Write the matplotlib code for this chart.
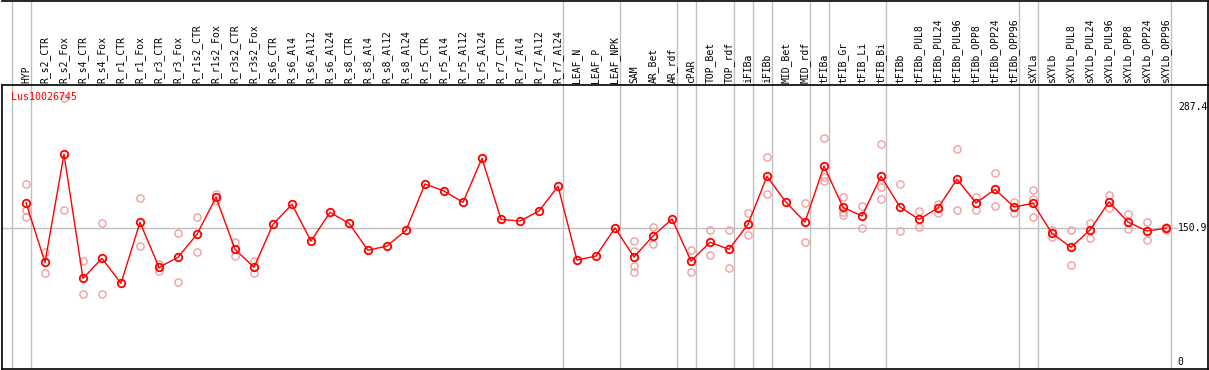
import matplotlib
matplotlib.use("Agg")
import matplotlib.pyplot as plt
import numpy as np

labels = ["HYP", "R_s2_CTR", "R_s2_Fox", "R_s4_CTR", "R_s4_Fox", "R_r1_CTR", "R_r1_Fox",
          "R_r3_CTR", "R_r3_Fox", "R_r1s2_CTR", "R_r1s2_Fox", "R_r3s2_CTR", "R_r3s2_Fox",
          "R_s6_CTR", "R_s6_Al4", "R_s6_Al12", "R_s6_Al24", "R_s8_CTR", "R_s8_Al4",
          "R_s8_Al12", "R_s8_Al24", "R_r5_CTR", "R_r5_Al4", "R_r5_Al12", "R_r5_Al24",
          "R_r7_CTR", "R_r7_Al4", "R_r7_Al12", "R_r7_Al24", "LEAF_N", "LEAF_P", "LEAF_NPK",
          "SAM", "AR_Bet", "AR_rdf", "cPAR", "TOP_Bet", "TOP_rdf", "iFIBa", "iFIBb",
          "MID_Bet", "MID_rdf", "tFIBa", "tFIB_Gr", "tFIB_Li", "tFIB_Bi", "tFIBb",
          "tFIBb_PUL8", "tFIBb_PUL24", "tFIBb_PUL96", "tFIBb_OPP8", "tFIBb_OPP24",
          "tFIBb_OPP96", "sXYLa", "sXYLb", "sXYLb_PUL8", "sXYLb_PUL24", "sXYLb_PUL96",
          "sXYLb_OPP8", "sXYLb_OPP24", "sXYLb_OPP96"]

means = [179.7, 112.6, 234.2, 94.6, 117.1, 89.0, 157.7, 107.0, 118.3, 144.2, 185.8,
         127.3, 107.0, 155.4, 177.9, 136.6, 168.9, 156.5, 126.2, 131.0, 148.7, 200.8,
         192.9, 180.2, 229.7, 161.0, 159.1, 170.4, 198.2, 115.2, 119.7, 151.3, 118.6,
         142.2, 161.4, 114.1, 135.2, 127.3, 155.4, 209.4, 180.2, 158.0, 221.0, 174.5,
         164.8, 209.4, 174.9, 161.0, 173.8, 206.1, 179.4, 194.8, 174.9, 179.0, 145.3,
         129.5, 149.0, 180.8, 158.0, 147.9, 150.9]

# replicate values per sample (empty = none visible)
reps = [[200.4, 171.5, 163.3], [123.9, 100.6], [297.2, 171.5], [113.8, 76.6],
        [156.5, 76.6], [], [185.0, 131.0], [110.7, 102.9], [145.3, 90.5],
        [163.3, 123.9], [189.2, 182.8], [135.5, 120.1], [114.5, 100.9],
        [], [], [], [], [], [], [], [], [], [], [], [], [], [], [], [], [], [], [],
        [136.6, 125.4, 108.5, 102.1], [152.4, 132.9], [], [126.2, 101.7],
        [148.7, 120.9], [148.7, 105.9], [167.8, 143.0], [230.8, 189.2], [],
        [179.0, 135.2], [252.2, 208.3, 204.1], [185.8, 169.3, 165.9], [175.7, 150.9],
        [245.4, 197.7, 183.5], [200.4, 147.5], [170.7, 152.0], [178.3, 168.5],
        [239.8, 171.2], [186.1, 171.8], [212.8, 175.7], [180.8, 167.8],
        [193.7, 183.5, 163.3], [149.0, 141.5], [149.0, 109.6], [156.9, 140.3],
        [188.4, 173.4], [166.7, 149.8], [158.0, 137.7], [152.5, 149.3]]

group_ends = [-1, 0, 28, 31, 34, 35, 37, 38, 39, 41, 42, 45, 52, 53, 60]
title = "Lus10026745"
ref_vals = [287.4, 150.9, 0]

W, H = 1209, 370
fig = plt.figure(figsize=(W / 100, H / 100), dpi=100)
ax = fig.add_axes([2 / W, 1 - 369 / H, 1206 / W, 284 / H])
axh = fig.add_axes([2 / W, 1 - 85 / H, 1206 / W, 84.5 / H])

xlim = ((2 - 26) / 19, (1208 - 26) / 19)
gray = "#c0c0c0"
font = "DejaVu Sans Mono"

for a in (ax, axh):
    a.set_xlim(*xlim)
    a.set_xticks([])
    a.set_yticks([])
    for g in group_ends:
        a.axvline(g + 0.24, color=gray, lw=1, zorder=1)

ax.set_ylim(-7.4, 312.2)
for s in ("left", "bottom", "right"):
    ax.spines[s].set_linewidth(1.2)
ax.spines["top"].set_visible(False)

axh.set_ylim(0, 1)
axh.spines["left"].set_visible(False)
for s in ("top", "bottom", "right"):
    axh.spines[s].set_linewidth(1.2)

ax.axhline(150.9, xmax=0.974, color=gray, lw=1, zorder=1)

x = np.arange(len(means))
for i, r in enumerate(reps):
    if r:
        ax.plot([i] * len(r), r, "o", ms=5.2, mfc="none", mec="#f0a0a0", mew=1.0,
                zorder=2, clip_on=False)
ax.plot(x, means, "-", color="red", lw=1, zorder=3)
ax.plot(x, means, "o", ms=5.4, mfc="none", mec="red", mew=1.3, zorder=4)

for v in ref_vals:
    ax.text(0.975, v, str(v) if v else "0", transform=ax.get_yaxis_transform(),
            ha="left", va="center", fontsize=7, family=font, color="black")

ax.text(9 / 1206, 312.2 - 12 / 0.8886, title, transform=ax.get_yaxis_transform(),
        ha="left", va="center", fontsize=7.2, family=font, color="red")

for i, lab in enumerate(labels):
    axh.text(i, 2 / 85, lab, rotation=90, ha="center", va="bottom", fontsize=7,
             family=font, color="black")

fig.savefig("out.png", dpi=100)
